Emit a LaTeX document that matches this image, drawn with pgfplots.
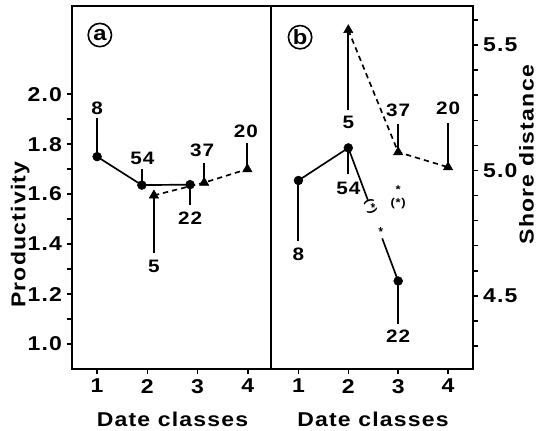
\documentclass[border=0pt]{standalone}
\usepackage{fontspec}
\setmainfont{Liberation Sans}[UprightFont={* Bold}, FakeStretch=1.15, LetterSpace=6]
\usepackage{pgfplots}
\pgfplotsset{compat=1.18}
\tikzset{
  ptlabel/.style={font=\fontsize{13.5}{15}\selectfont, inner sep=0pt},
  starlabel/.style={font=\fontsize{8.5}{9}\selectfont, inner sep=0pt},
  panellabel/.style={circle, draw, line width=1.2pt, minimum size=17.5pt, inner sep=0pt,
    font=\fontsize{15.5}{15.5}\selectfont},
  axlabel/.style={font=\fontsize{15}{17}\selectfont},
}
\begin{document}
\begin{tikzpicture}
\path[use as bounding box] (0,0) rectangle (405pt,323.25pt);
\pgfplotsset{
  common/.style={
    scale only axis, height=272.25pt,
    axis line style={line width=1.4pt},
    every tick/.style={line width=1.2pt, black},
    major tick length=4pt, minor tick length=4pt,
    tick align=outside,
    /pgf/number format/assume math mode=true,
    ticklabel style={font=\fontsize{15}{17}\selectfont},
    yticklabel style={/pgf/number format/.cd, fixed, fixed zerofill, precision=1},
    xtick={1,2,3,4}, xticklabels={1,2,3,4},
    xtick pos=bottom,
    clip=false,
  },
  solidser/.style={black, line width=1.25pt, solid},
  dashser/.style={black, line width=1.25pt, dash pattern=on 4pt off 3pt},
  bars/.style={only marks, black,
    error bars/y dir=both, error bars/y explicit, error bars/error mark=none,
    error bars/error bar style={solid, line width=1.5pt, black}},
  circmark/.style={mark=*, mark size=3.3pt},
  trimark/.style={mark=triangle*, mark size=4pt},
}
% ---------------- panel (a)
\begin{axis}[common, at={(54pt,46.5pt)}, anchor=south west, width=149.25pt,
  xmin=0.5, xmax=4.46, ymin=0.9, ymax=2.353,
  ytick={1,1.2,1.4,1.6,1.8,2}, minor ytick={1.1,1.3,1.5,1.7,1.9},
  ytick pos=left]
\addplot[solidser] coordinates {(1,1.75) (1.89,1.636) (2.85,1.638)};
\addplot[dashser] coordinates {(2.13,1.595) (3.13,1.646) (3.99,1.70)};
\addplot[bars, circmark] coordinates {
  (1,1.75) += (0,0.154) -= (0,0)
  (1.89,1.636) += (0,0.066) -= (0,0)
  (2.85,1.638) += (0,0) -= (0,0.081)
};
\addplot[bars, trimark] coordinates {
  (2.13,1.595) += (0,0) -= (0,0.229)
  (3.13,1.646) += (0,0.078) -= (0,0)
  (3.99,1.70) += (0,0.104) -= (0,0)
};
\node[ptlabel] at (axis cs:1,1.945) {8};
\node[ptlabel] at (axis cs:1.9,1.744) {54};
\node[ptlabel] at (axis cs:2.85,1.505) {22};
\node[ptlabel] at (axis cs:2.13,1.31) {5};
\node[ptlabel] at (axis cs:3.09,1.775) {37};
\node[ptlabel] at (axis cs:3.96,1.85) {20};
\node[panellabel] at (rel axis cs:0.14,0.92) {a};
\node[axlabel, rotate=90] at (rel axis cs:-0.26,0.37) {Productivity};
\node[axlabel] at (rel axis cs:0.505,-0.14) {Date classes};
\end{axis}
% ---------------- panel (b)
\begin{axis}[common, at={(203.25pt,46.5pt)}, anchor=south west, width=151.5pt,
  xmin=0.45, xmax=4.5, ymin=4.208, ymax=5.656,
  ytick={4.5,5,5.5}, minor ytick={4.3,4.4,4.6,4.7,4.8,4.9,5.1,5.2,5.3,5.4,5.6},
  ytick pos=right, yticklabel pos=right]
\addplot[solidser] coordinates {(1,4.96) (2,5.09) (2.39,4.883)};
\addplot[solidser] coordinates {(2.68,4.729) (3,4.559)};
\addplot[dashser] coordinates {(2,5.56) (3,5.073) (4,5.013)};
\addplot[bars, circmark] coordinates {
  (1,4.96) += (0,0) -= (0,0.24)
  (2,5.09) += (0,0) -= (0,0.103)
  (3,4.559) += (0,0) -= (0,0.17)
};
\addplot[bars, trimark] coordinates {
  (2,5.56) += (0,0) -= (0,0.32)
  (3,5.073) += (0,0.114) -= (0,0)
  (4,5.013) += (0,0.177) -= (0,0)
};
\node[ptlabel] at (axis cs:1,4.664) {8};
\node[ptlabel] at (axis cs:2,4.93) {54};
\node[ptlabel] at (axis cs:3,4.34) {22};
\node[ptlabel] at (axis cs:2,5.19) {5};
\node[ptlabel] at (axis cs:3,5.24) {37};
\node[ptlabel] at (axis cs:4,5.247) {20};
\node[starlabel] at (axis cs:3,4.922) {*};
\node[starlabel] at (axis cs:3,4.866) {(*)};
\node[starlabel, rotate=-69.4] at (axis cs:2.445,4.855) {(*)};
\node[starlabel, rotate=-69.4] at (axis cs:2.62,4.762) {*};
\node[panellabel] at (rel axis cs:0.144,0.914) {b};
\node[axlabel, rotate=90] at (rel axis cs:1.265,0.59) {Shore distance};
\node[axlabel] at (rel axis cs:0.505,-0.14) {Date classes};
\end{axis}
\end{tikzpicture}
\end{document}
